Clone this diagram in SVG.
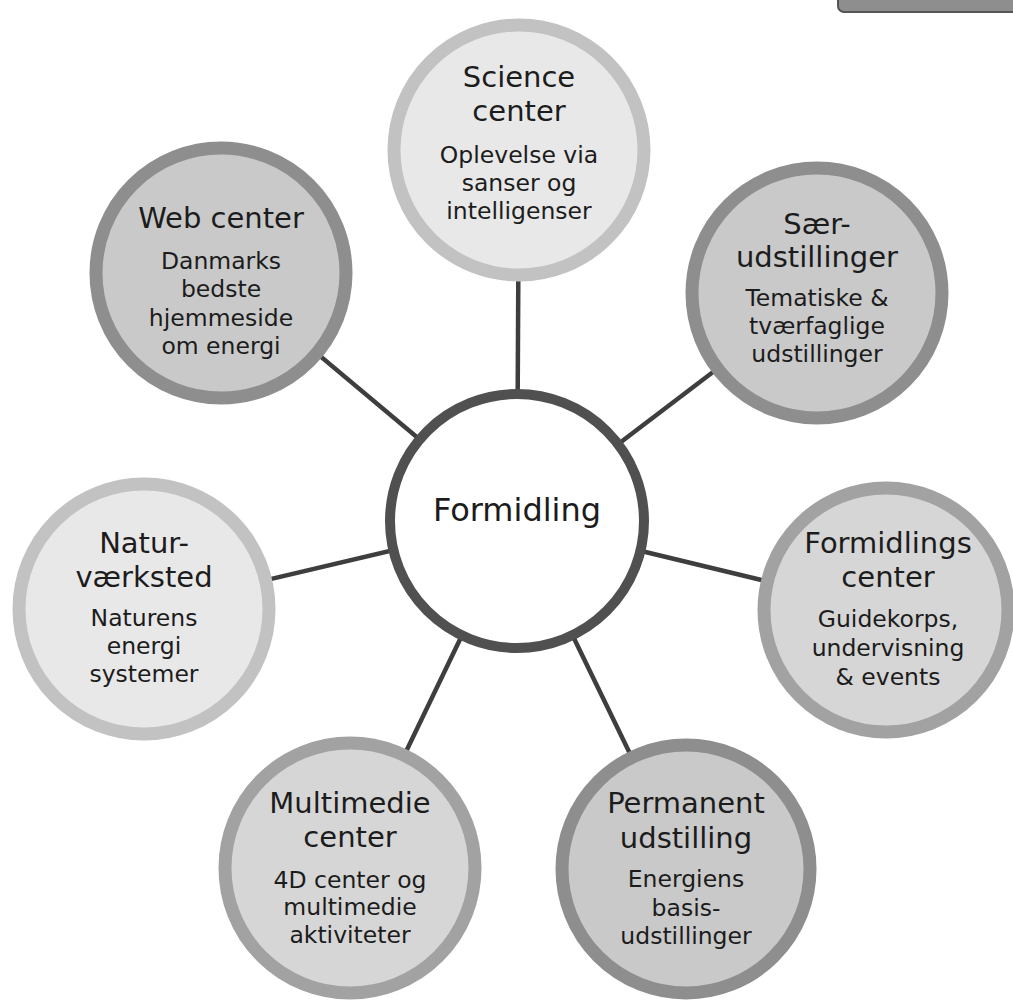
<svg xmlns="http://www.w3.org/2000/svg" width="1013" height="1000" viewBox="0 0 1013 1000">
<style>
.t{font-family:Verdana,"DejaVu Sans",sans-serif;font-size:29px;fill:#1c1c1c;text-anchor:middle}
.s{font-family:Verdana,"DejaVu Sans",sans-serif;font-size:23.5px;fill:#1c1c1c;text-anchor:middle}
.c{font-family:Verdana,"DejaVu Sans",sans-serif;font-size:32px;fill:#1c1c1c;text-anchor:middle}
.l1{fill:#e8e8e8;stroke:#c2c2c2;stroke-width:13}
.l2{fill:#d6d6d6;stroke:#a2a2a2;stroke-width:13}
.l3{fill:#c9c9c9;stroke:#8e8e8e;stroke-width:13}
.conn line{stroke:#3e3e3e;stroke-width:4.5}
</style>
<rect width="1013" height="1000" fill="#ffffff"/>
<rect x="838" y="-20" width="190" height="32" rx="6" fill="#8e8e8e" stroke="#555" stroke-width="2"/>
<g class="conn">
<line x1="517" y1="521" x2="519" y2="150"/>
<line x1="517" y1="521" x2="221" y2="273"/>
<line x1="517" y1="521" x2="817" y2="293"/>
<line x1="517" y1="521" x2="144" y2="609"/>
<line x1="517" y1="521" x2="886" y2="610"/>
<line x1="517" y1="521" x2="350" y2="868"/>
<line x1="517" y1="521" x2="686" y2="869"/>
</g>
<g id="science">
<circle class="l1" cx="519" cy="150" r="125"/>
<text class="t" x="519" y="87">Science</text>
<text class="t" x="519" y="121">center</text>
<text class="s" x="519" y="163">Oplevelse via</text>
<text class="s" x="519" y="191">sanser og</text>
<text class="s" x="519" y="219">intelligenser</text>
</g>
<g id="web">
<circle class="l3" cx="221" cy="273" r="125"/>
<text class="t" x="221" y="228">Web center</text>
<text class="s" x="221" y="269">Danmarks</text>
<text class="s" x="221" y="297">bedste</text>
<text class="s" x="221" y="326">hjemmeside</text>
<text class="s" x="221" y="354">om energi</text>
</g>
<g id="saer">
<circle class="l3" cx="817" cy="293" r="125"/>
<text class="t" x="817" y="234">Sær-</text>
<text class="t" x="817" y="267">udstillinger</text>
<text class="s" x="817" y="306">Tematiske &amp;</text>
<text class="s" x="817" y="334">tværfaglige</text>
<text class="s" x="817" y="362">udstillinger</text>
</g>
<g id="natur">
<circle class="l1" cx="144" cy="609" r="125"/>
<text class="t" x="144" y="553">Natur-</text>
<text class="t" x="144" y="587">værksted</text>
<text class="s" x="144" y="626">Naturens</text>
<text class="s" x="144" y="654">energi</text>
<text class="s" x="144" y="682">systemer</text>
</g>
<g id="formidlingscenter">
<circle class="l2" cx="886" cy="610" r="122"/>
<text class="t" x="888" y="553">Formidlings</text>
<text class="t" x="888" y="587">center</text>
<text class="s" x="888" y="627">Guidekorps,</text>
<text class="s" x="888" y="656">undervisning</text>
<text class="s" x="888" y="685">&amp; events</text>
</g>
<g id="multimedie">
<circle class="l2" cx="350" cy="868" r="125"/>
<text class="t" x="350" y="813">Multimedie</text>
<text class="t" x="350" y="847">center</text>
<text class="s" x="350" y="888">4D center og</text>
<text class="s" x="350" y="915">multimedie</text>
<text class="s" x="350" y="943">aktiviteter</text>
</g>
<g id="permanent">
<circle class="l3" cx="686" cy="869" r="124"/>
<text class="t" x="686" y="813">Permanent</text>
<text class="t" x="686" y="848">udstilling</text>
<text class="s" x="686" y="887">Energiens</text>
<text class="s" x="686" y="916">basis-</text>
<text class="s" x="686" y="944">udstillinger</text>
</g>
<g id="formidling">
<circle cx="517" cy="521" r="127" fill="#ffffff" stroke="#505050" stroke-width="10"/>
<text class="c" x="517" y="521">Formidling</text>
</g>
</svg>
